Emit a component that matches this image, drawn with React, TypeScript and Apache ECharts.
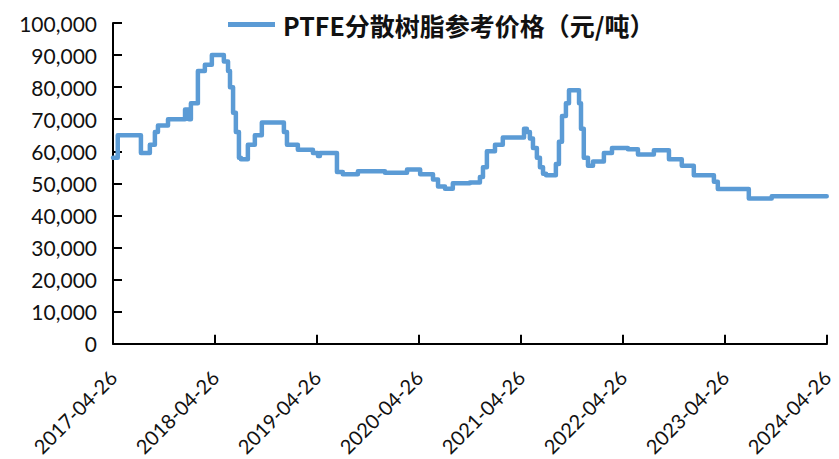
import React, { useEffect, useRef } from "react";
import * as echarts from "echarts";

const seriesName = "PTFE分散树脂参考价格（元/吨）";

const xTickLabels = [
  "2017-04-26", "2018-04-26", "2019-04-26", "2020-04-26",
  "2021-04-26", "2022-04-26", "2023-04-26", "2024-04-26",
];

const dates = [
  "2017-04-26", "2017-05-13", "2017-08-04", "2017-09-05", "2017-09-23", "2017-10-04",
  "2017-11-09", "2018-01-09", "2018-01-23", "2018-01-30", "2018-02-24", "2018-03-21",
  "2018-04-15", "2018-05-28", "2018-06-12", "2018-06-19", "2018-06-30", "2018-07-10",
  "2018-07-21", "2018-07-28", "2018-08-22", "2018-09-16", "2018-10-11", "2018-12-29",
  "2019-01-09", "2019-02-17", "2019-04-12", "2019-04-30", "2019-05-07", "2019-07-07",
  "2019-07-28", "2019-09-20", "2019-12-26", "2020-03-14", "2020-04-30", "2020-06-15",
  "2020-07-03", "2020-07-28", "2020-08-25", "2020-10-25", "2020-11-30", "2020-12-11",
  "2020-12-25", "2021-01-23", "2021-02-20", "2021-05-07", "2021-05-17", "2021-05-28",
  "2021-06-08", "2021-06-22", "2021-07-03", "2021-07-14", "2021-07-25", "2021-08-29",
  "2021-09-09", "2021-09-20", "2021-10-04", "2021-10-15", "2021-11-20", "2021-11-27",
  "2021-12-07", "2021-12-22", "2022-01-09", "2022-02-17", "2022-03-18", "2022-05-14",
  "2022-06-19", "2022-08-15", "2022-10-08", "2022-11-23", "2023-01-05", "2023-03-18",
  "2023-04-01", "2023-07-21", "2023-10-11", "2024-04-25",
];

const prices = [
  58000, 65000, 59500, 62000, 66000, 68000,
  70000, 73000, 70000, 75000, 85000, 87000,
  90000, 88000, 85000, 80000, 72000, 66000,
  58000, 57500, 62000, 65000, 69000, 66000,
  62000, 60500, 59500, 58500, 59500, 53500,
  52800, 53800, 53300, 54300, 52800, 51200,
  49000, 48300, 50000, 50300, 52000, 55000,
  60000, 62000, 64300, 67000, 66000, 64000,
  61000, 58000, 55000, 53000, 52500, 56000,
  63000, 71000, 75000, 79000, 75000, 67000,
  58000, 55500, 56800, 59500, 61000, 60600,
  59000, 60300, 57500, 55500, 52500, 50500,
  48200, 45300, 46000, 46000,
];

const yMax = 100000;
const yStep = 10000;

export default function App() {
  const ref = useRef<HTMLDivElement>(null);

  useEffect(() => {
    if (!ref.current) return;
    const chart = echarts.init(ref.current, undefined, { renderer: "svg" });
    const t0 = Date.parse(xTickLabels[0]);
    const tEnd = Date.parse(xTickLabels[xTickLabels.length - 1]);
    const unit = (tEnd - t0) / (xTickLabels.length - 1);
    const data = dates.map((d, i) => [(Date.parse(d) - t0) / unit, prices[i]]);
    const axisColor = "#000";
    const labelFont = "Lato, 'Noto Sans', sans-serif";

    chart.setOption({
      animation: false,
      backgroundColor: "#fff",
      grid: { left: 113, right: 12, top: 23, bottom: 114, containLabel: false },
      legend: {
        show: true,
        left: 228,
        top: 12,
        padding: 0,
        icon: "rect",
        itemWidth: 47,
        itemHeight: 5,
        itemGap: 0,
        textStyle: {
          fontFamily: "'Noto Sans CJK SC', sans-serif",
          fontWeight: "bold",
          fontSize: 25,
          color: "#111",
          padding: [0, 0, 0, 3],
        },
        data: [{ name: seriesName, itemStyle: { color: "#5B9BD5" } }],
      },
      xAxis: {
        type: "value",
        min: 0,
        max: xTickLabels.length - 1,
        interval: 1,
        splitLine: { show: false },
        axisLine: { show: true, lineStyle: { color: axisColor, width: 2 } },
        axisTick: { show: true, inside: true, length: 9, lineStyle: { color: axisColor, width: 2 } },
        axisLabel: {
          rotate: 45,
          margin: 30,
          fontFamily: labelFont,
          fontSize: 20,
          color: "#111",
          showMaxLabel: true,
          showMinLabel: true,
          formatter: (v: number) => xTickLabels[Math.round(v)] ?? "",
        },
      },
      yAxis: {
        type: "value",
        min: 0,
        max: yMax,
        interval: yStep,
        splitLine: { show: false },
        axisLine: { show: true, lineStyle: { color: axisColor, width: 2 } },
        axisTick: { show: true, inside: true, length: 9, lineStyle: { color: axisColor, width: 2 } },
        axisLabel: {
          margin: 16,
          fontFamily: labelFont,
          fontSize: 21,
          color: "#111",
          formatter: (v: number) => v.toLocaleString("en-US"),
        },
      },
      series: [
        {
          name: seriesName,
          type: "line",
          step: "end",
          data,
          showSymbol: false,
          symbol: "none",
          color: "#5B9BD5",
          lineStyle: { color: "#5B9BD5", width: 4.5, join: "round", cap: "round" },
        },
      ],
    });
    return () => chart.dispose();
  }, []);

  return (
    <div
      ref={ref}
      style={{ position: "absolute", left: 0, top: 0, width: 839, height: 459 }}
    />
  );
}
